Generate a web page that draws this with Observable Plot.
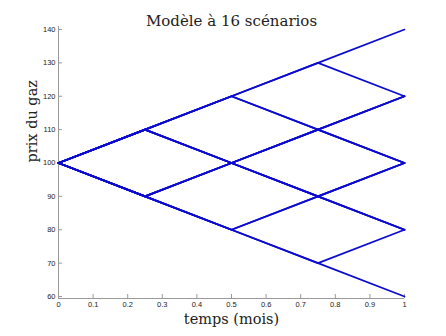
<!DOCTYPE html>
<html><head><meta charset="utf-8">
<script src="https://cdn.jsdelivr.net/npm/d3@7"></script>
<script src="https://cdn.jsdelivr.net/npm/@observablehq/plot@0.6"></script>
<style>body{margin:0;background:#fff}</style>
</head><body><div id="chart"></div>
<script>
const times = [0, 0.25, 0.5, 0.75, 1];
const scenarios = [
  [100,110,120,130,140],
  [100,110,120,130,120],
  [100,110,120,110,120],
  [100,110,120,110,100],
  [100,110,100,110,120],
  [100,110,100,110,100],
  [100,110,100,90,100],
  [100,110,100,90,80],
  [100,90,100,110,120],
  [100,90,100,110,100],
  [100,90,100,90,100],
  [100,90,100,90,80],
  [100,90,80,90,100],
  [100,90,80,90,80],
  [100,90,80,70,80],
  [100,90,80,70,60]
];
const xTicks = [0,0.1,0.2,0.3,0.4,0.5,0.6,0.7,0.8,0.9,1];
const yTicks = [60,70,80,90,100,110,120,130,140];
const title = "Modèle à 16 scénarios";
const xLabel = "temps (mois)";
const yLabel = "prix du gaz";

const rows = [];
scenarios.forEach((s, i) => s.forEach((v, j) => rows.push({id: i, t: times[j], p: v})));
const yDomain = [59.4, 140.9];
const serif = "'DejaVu Serif', serif";

const chart = Plot.plot({
  width: 446, height: 336,
  marginLeft: 58, marginRight: 42, marginTop: 26, marginBottom: 38,
  style: {fontFamily: "'Liberation Sans', Arial, sans-serif", fontSize: "7.5px", color: "#222", background: "#fff"},
  x: {domain: [0, 1]},
  y: {domain: yDomain},
  marks: [
    Plot.ruleX([0], {stroke: "#999"}),
    Plot.ruleY([yDomain[0]], {stroke: "#999"}),
    Plot.axisX({ticks: xTicks, tickSize: -4, tickPadding: 7, stroke: "#999", tickFormat: d => String(d), label: null}),
    Plot.axisY({ticks: yTicks, tickSize: -4, tickPadding: 7, stroke: "#999", label: null}),
    Plot.line(rows, {x: "t", y: "p", z: "id", stroke: "#0c0cd0", strokeWidth: 1.7}),
    Plot.text([title], {frameAnchor: "top", dy: -11, fontFamily: serif, fontSize: 15, fill: "#222"}),
    Plot.text([xLabel], {frameAnchor: "bottom", dy: 25, fontFamily: serif, fontSize: 14.5, fill: "#222"}),
    Plot.text([yLabel], {frameAnchor: "left", dx: -26, rotate: -90, fontFamily: serif, fontSize: 14.5, fill: "#222"})
  ]
});
document.getElementById("chart").append(chart);
</script></body></html>
